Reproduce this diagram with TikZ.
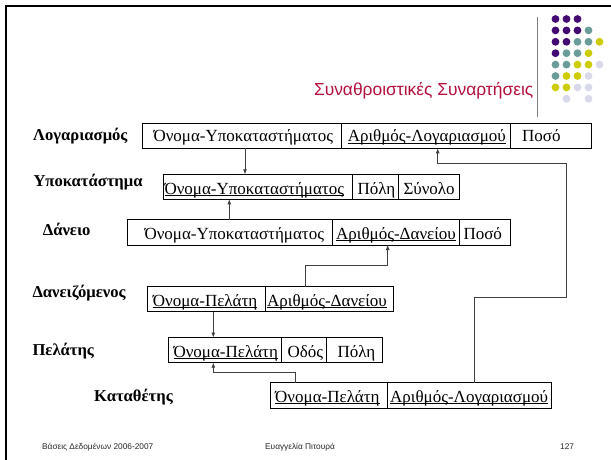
\documentclass[tikz,border=0pt]{standalone}
\usepackage{fontspec}
\setmainfont{Liberation Serif}
\newfontfamily\sansf{Liberation Sans}
\usetikzlibrary{arrows.meta}
\definecolor{dpurple}{HTML}{420A72}
\definecolor{dteal}{HTML}{6A9D9A}
\definecolor{dyellow}{HTML}{CCCC00}
\definecolor{dlav}{HTML}{D9D9EC}
\definecolor{titlered}{HTML}{B5103C}
\definecolor{conncol}{HTML}{404040}
\definecolor{logogray}{HTML}{808080}
\newsavebox\ulbox
\newcommand{\ulin}[1]{\sbox\ulbox{#1}\rlap{\rule[-2.3pt]{\wd\ulbox}{0.9pt}}\usebox\ulbox}
\begin{document}
\begin{tikzpicture}[x=1pt,y=-1pt,
  cellbox/.style={draw=black, line width=1pt, inner sep=0pt, outer sep=0pt, minimum height=25pt},
  txt/.style={anchor=base west, inner sep=0pt, font=\fontsize{17}{19}\selectfont},
  lbl/.style={anchor=base west, inner sep=0pt, font=\fontsize{16.6}{18}\selectfont\bfseries},
  foot/.style={anchor=base west, inner sep=0pt, font=\sansf\fontsize{8.3}{10}\selectfont, text=black!85},
  conn/.style={draw=conncol, line width=0.8pt},
  arr/.style={-{Latex[length=5pt,width=4pt]}}]
\useasboundingbox (0,0) rectangle (611,459);
\fill[white] (0,0) rectangle (611,459);
% frame
\draw[black, line width=2.7pt, line join=miter] (6,470) -- (6,6) -- (620,6);
% logo dots
\foreach \c/\r/\dc in {0/0/dpurple,1/0/dpurple,2/0/dpurple,
  0/1/dpurple,1/1/dpurple,2/1/dpurple,3/1/dteal,
  0/2/dpurple,1/2/dpurple,2/2/dteal,3/2/dteal,4/2/dyellow,
  0/3/dpurple,1/3/dteal,2/3/dteal,3/3/dyellow,
  0/4/dteal,1/4/dteal,2/4/dyellow,3/4/dyellow,4/4/dlav,
  0/5/dteal,1/5/dyellow,2/5/dyellow,3/5/dlav,
  0/6/dyellow,1/6/dyellow,2/6/dlav,3/6/dlav,
  1/7/dlav,3/7/dlav}
  \fill[fill=\dc] (555.5+11*\c, 19+11.4*\r) circle[radius=3.9pt];
\draw[draw=logogray, line width=1.5pt] (537.5,17) -- (537.5,117);
\node[anchor=base east, inner sep=0pt, text=titlered, font=\sansf\fontsize{17.4}{20}\selectfont] (title) at (533.5,95) {Συναθροιστικές Συναρτήσεις};
% labels
\node[lbl] (lab1) at (33,140) {Λογαριασμός};
\node[lbl] (lab2) at (33.3,186) {Υποκατάστημα};
\node[lbl] (lab3) at (42.7,235) {Δάνειο};
\node[lbl] (lab4) at (32.3,297.3) {Δανειζόμενος};
\node[lbl] (lab5) at (32.3,355) {Πελάτης};
\node[lbl] (lab6) at (94,401.5) {Καταθέτης};
% cells
\node[cellbox, minimum width=199pt] (L1) at (242.2,135.8) {};
\node[cellbox, minimum width=168.3pt] (L2) at (425.85,135.8) {};
\node[cellbox, minimum width=81.7pt] (L3) at (550.85,135.8) {};
\node[cellbox, minimum width=189pt] (Y1) at (257.8,186.8) {};
\node[cellbox, minimum width=46pt] (Y2) at (375.3,186.8) {};
\node[cellbox, minimum width=60.7pt] (Y3) at (428.65,186.8) {};
\node[cellbox, minimum width=205pt, minimum height=25.5pt] (D1) at (229.8,232.25) {};
\node[cellbox, minimum width=127pt, minimum height=25.5pt] (D2) at (395.8,232.25) {};
\node[cellbox, minimum width=50.7pt, minimum height=25.5pt] (D3) at (484.65,232.25) {};
\node[cellbox, minimum width=117.3pt] (B1) at (206.35,299.2) {};
\node[cellbox, minimum width=128.3pt] (B2) at (329.15,299.2) {};
\node[cellbox, minimum width=112.7pt, minimum height=25.2pt] (P1) at (224.65,350.1) {};
\node[cellbox, minimum width=45.7pt, minimum height=25.2pt] (P2) at (303.85,350.1) {};
\node[cellbox, minimum width=55.6pt, minimum height=25.2pt] (P3) at (354.5,350.1) {};
\node[cellbox, minimum width=117pt, minimum height=25.6pt] (K1) at (329.2,395.5) {};
\node[cellbox, minimum width=163.3pt, minimum height=25.6pt] (K2) at (469.35,395.5) {};
% cell texts
\node[txt] (tL1) at (153.3,141.5) {Όνομα-Υποκαταστήματος};
\node[txt] (tL2) at (347.7,141.5) {\ulin{Αριθμός-Λογαριασμού}};
\node[txt] (tL3) at (522,141.5) {Ποσό};
\node[txt] (tY1) at (164.3,194) {\ulin{Όνομα-Υποκαταστήματος}};
\node[txt] (tY2) at (357.3,194) {Πόλη};
\node[txt] (tY3) at (403.3,194) {Σύνολο};
\node[txt] (tD1) at (144.3,239) {Όνομα-Υποκαταστήματος};
\node[txt] (tD2) at (336,239) {\ulin{Αριθμός-Δανείου}};
\node[txt] (tD3) at (463.3,239) {Ποσό};
\node[txt] (tB1) at (152.7,306) {\ulin{Όνομα-Πελάτη}};
\node[txt] (tB2) at (267,306) {\ulin{Αριθμός-Δανείου}};
\node[txt] (tP1) at (173.3,357) {\ulin{Όνομα-Πελάτη}};
\node[txt] (tP2) at (287.3,357) {Οδός};
\node[txt] (tP3) at (337.3,357) {Πόλη};
\node[txt] (tK1) at (275,402) {\ulin{Όνομα-Πελάτη}};
\node[txt] (tK2) at (390,402) {\ulin{Αριθμός-Λογαριασμού}};
% connectors
\coordinate (j1) at (387.7,265.7);
\coordinate (j2) at (213.3,372.7);
\coordinate (j3) at (566.7,297);
\coordinate (j4) at (437.7,163.3);
\draw[conn,arr] ([xshift=2.8pt]L1.south) -- ([xshift=2.8pt]L1.south |- Y1.north);
\draw[conn,arr] ([xshift=-0.5pt]D1.north) -- ([xshift=-0.5pt]D1.north |- Y1.south);
\draw[conn,arr] ([xshift=-23.45pt]B2.north) |- (j1) -- (j1 |- D2.south);
\draw[conn,arr] ([xshift=6.95pt]B1.south) -- ([xshift=6.95pt]B1.south |- P1.north);
\draw[conn,arr] ([xshift=-33.5pt]K1.north) |- (j2) -- (j2 |- P1.south);
\draw[conn,arr] ([xshift=4.65pt]K2.north) |- (j3) |- (j4) -- (j4 |- L2.south);
% footer
\node[foot] (f1) at (42,449) {Βάσεις Δεδομένων 2006-2007};
\node[foot] (f2) at (265,449) {Ευαγγελία Πιτουρά};
\node[foot] (f3) at (560,449) {127};
\end{tikzpicture}
\end{document}
